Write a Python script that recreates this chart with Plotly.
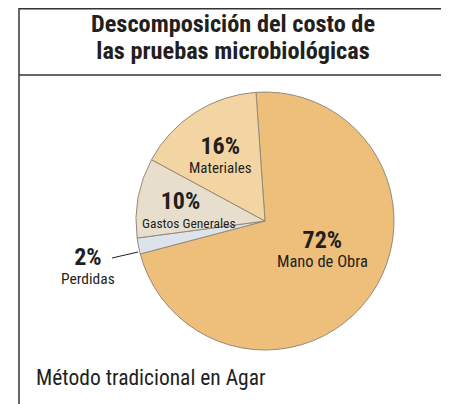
import plotly.graph_objects as go

# The page body adds an 8px margin, so the figure is drawn 8px smaller and
# reference pixel coordinates are shifted by OFF.
OFF = 8
W, H = 449 - OFF, 404 - OFF

# Data
categories = ["Mano de Obra", "Perdidas", "Gastos Generales", "Materiales"]
values = [72, 2, 10, 16]
colors = ["#EDBF7B", "#DDE3EA", "#E8DECD", "#F3D5A3"]

title_lines = ["Descomposición del costo de", "las pruebas microbiológicas"]
footer = "Método tradicional en Agar"

FONT = "Liberation Sans Narrow, Roboto Condensed, Arial Narrow, Liberation Sans, sans-serif"
INK = "#231f20"


def px(x):
    return (x - OFF) / W


def py(y):
    return (H - (y - OFF)) / H


cx, cy, r = 265, 221, 129

fig = go.Figure(go.Pie(
    labels=categories,
    values=values,
    sort=False,
    direction="clockwise",
    rotation=-4,
    marker=dict(colors=colors, line=dict(color="#958a78", width=1)),
    textinfo="none",
    hoverinfo="label+percent",
    showlegend=False,
    domain=dict(x=[px(cx - r), px(cx + r)], y=[py(cy + r), py(cy - r)]),
))

# label block centre (pixel x, y), name font size, padding after the % value
label_pos = {
    "Mano de Obra": (322, 248, 16.5, 0),
    "Materiales": (220, 154, 15, 0),
    "Gastos Generales": (189, 209, 13.5, 3),
    "Perdidas": (88, 265, 15.5, 0),
}

annotations = []
for cat, val in zip(categories, values):
    x, y, fs, pad = label_pos[cat]
    txt = (f"<b><span style='font-size:24px'>{val}%{'&nbsp;' * pad}</span></b><br>"
           f"<span style='font-size:{fs}px'>{cat}</span>")
    annotations.append(dict(x=px(x), y=py(y), xref="paper", yref="paper",
                            text=txt, showarrow=False, align="center",
                            font=dict(family=FONT, size=14.5, color=INK),
                            xanchor="center", yanchor="middle"))

# title (two lines)
title_txt = "<br>".join(f"<b><span style='font-size:24.3px'>{t}</span></b>" for t in title_lines)
annotations.append(dict(x=px(233), y=py(37), xref="paper", yref="paper",
                        text=title_txt, showarrow=False, align="center",
                        font=dict(family=FONT, size=21, color=INK),
                        xanchor="center", yanchor="middle"))

annotations.append(dict(x=px(34), y=py(377), xref="paper", yref="paper",
                        text=footer, showarrow=False,
                        font=dict(family=FONT, size=21.5, color=INK),
                        xanchor="left", yanchor="middle"))

shapes = [
    dict(type="line", xref="paper", yref="paper", x0=px(19), x1=px(19), y0=py(8), y1=0,
         line=dict(color="#333333", width=1.5)),
    dict(type="line", xref="paper", yref="paper", x0=px(19), x1=1, y0=py(8.75), y1=py(8.75),
         line=dict(color="#333333", width=1.5)),
    dict(type="line", xref="paper", yref="paper", x0=px(19), x1=1, y0=py(75), y1=py(75),
         line=dict(color="#333333", width=1.5)),
    dict(type="line", xref="paper", yref="paper", x0=px(112), x1=px(138), y0=py(258), y1=py(252),
         line=dict(color=INK, width=1)),
]

fig.update_layout(
    width=W, height=H,
    margin=dict(l=0, r=0, t=0, b=0),
    paper_bgcolor="white", plot_bgcolor="white",
    annotations=annotations, shapes=shapes,
)

fig.write_html("out.html")
